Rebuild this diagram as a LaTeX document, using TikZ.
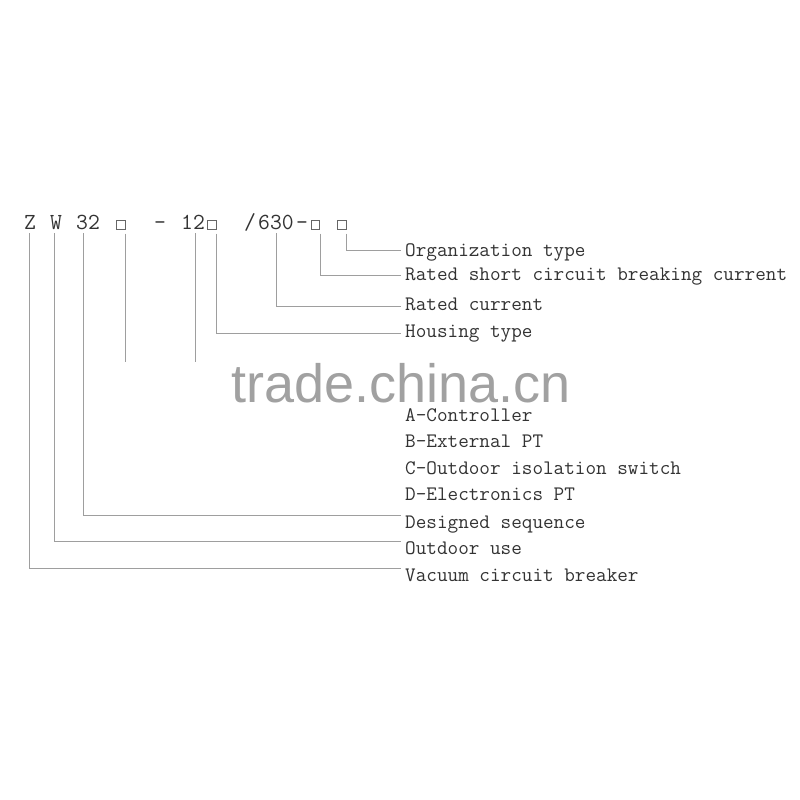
\documentclass[tikz,border=0pt]{standalone}
\usepackage{fontspec}
\newfontfamily\markfont{Liberation Sans}

\begin{document}
\begin{tikzpicture}[x=1pt,y=-1pt,
		code/.style={anchor=base,inner sep=0pt,text=black!80,font=\ttfamily\fontsize{23}{25}\selectfont},
		slot/.style={draw=black!60,line width=0.6pt,minimum size=8.5pt,inner sep=0pt},
		meaning/.style={anchor=base west,inner xsep=4pt,inner ysep=0pt,text height=13pt,text depth=4pt,text=black!80,font=\ttfamily\fontsize{20.6}{24}\selectfont},
		lead/.style={draw=black!38,line width=0.8pt}]
		\useasboundingbox (0,0) rectangle (800,800);
		% model code
		\node[code] (z) at (30,229) {Z};
		\node[code] (w) at (56,229) {W};
		\node[code] (n32) at (88,229) {32};
		\node[slot] (box1) at (121,225) {};
		\node[code] (dash1) at (160,229) {-};
		\node[code] (n12) at (193,229) {12};
		\node[slot] (box2) at (212,225) {};
		\node[code] (slash) at (250,229) {/};
		\node[code] (n630) at (276,229) {630};
		\node[code] (dash2) at (302,229) {-};
		\node[slot] (box3) at (315.5,225) {};
		\node[slot] (box4) at (341.7,225) {};
		% meanings
		\node[meaning] (org) at (401,256) {Organization type};
		\node[meaning] (brk) at (401,280) {Rated short circuit breaking current};
		\node[meaning] (cur) at (401,310) {Rated current};
		\node[meaning] (hsg) at (401,337) {Housing type};
		\node[meaning,text height=11pt] (optA) at (401,421) {A-Controller};
		\node[meaning] (optB) at (401,447.5) {B-External PT};
		\node[meaning] (optC) at (401,474) {C-Outdoor isolation switch};
		\node[meaning] (optD) at (401,500.7) {D-Electronics PT};
		\node[meaning] (dsg) at (401,528) {Designed sequence};
		\node[meaning] (out) at (401,554) {Outdoor use};
		\node[meaning] (vac) at (401,581) {Vacuum circuit breaker};
		\coordinate (fade) at (0,362);
		% leads
		\draw[lead] ([yshift=-4pt]box4.south east) |- ([yshift=1.5pt]org.west);
		\draw[lead] ([yshift=-4pt]box3.south east) |- (brk.west);
		\draw[lead] ([yshift=-4pt]n630.base) |- ([yshift=-1pt]cur.west);
		\draw[lead] ([yshift=-4pt]box2.south east) |- ([yshift=-1pt]hsg.west);
		\draw[lead] ([xshift=2pt,yshift=-4pt]n12.base) -- ([xshift=2pt]n12.base |- fade);
		\draw[lead] ([yshift=-4pt]box1.south east) -- (box1.south east |- fade);
		\draw[lead] ([xshift=-4.5pt,yshift=-4pt]n32.base) |- ([yshift=8pt]dsg.west);
		\draw[lead] ([xshift=-2pt,yshift=-4pt]w.base) |- ([yshift=8pt]out.west);
		\draw[lead] ([xshift=-1pt,yshift=-4pt]z.base) |- ([yshift=8pt]vac.west);
		% watermark
		\node[anchor=base west,inner sep=0pt,text depth=0pt,text=black!37,font=\markfont\fontsize{54}{60}\selectfont] (mark) at (231,402.7) {trade.china.cn};
	\end{tikzpicture}
\end{document}
